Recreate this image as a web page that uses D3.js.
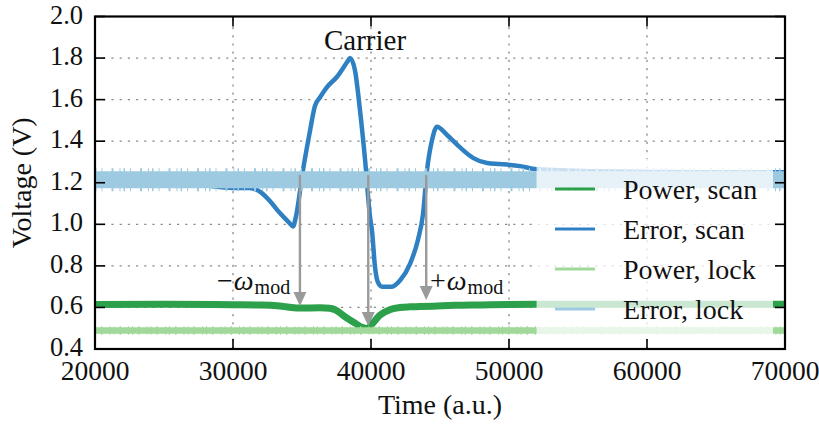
<!DOCTYPE html>
<html>
<head>
<meta charset="utf-8">
<script src="https://cdn.jsdelivr.net/npm/d3@7"></script>
<style>
  html, body { margin: 0; padding: 0; background: #fff; }
  svg { display: block; }
  text { font-family: "Liberation Serif", "DejaVu Serif", serif; fill: #111; }
</style>
</head>
<body>
<svg id="chart" width="819" height="427"></svg>
<script>
// ---------------- data ----------------
const xTicks = [20000, 30000, 40000, 50000, 60000, 70000];
const yTicks = [0.4, 0.6, 0.8, 1.0, 1.2, 1.4, 1.6, 1.8, 2.0];
const xLabel = "Time (a.u.)";
const yLabel = "Voltage (V)";
const seriesNames = ["Power, scan", "Error, scan", "Power, lock", "Error, lock"];
const seriesColors = ["#2ca04a", "#2f80c2", "#a1d99b", "#9ecae1"];

const powerScanT = [20000, 25000, 30000, 32000, 33400, 34100, 34850, 36300, 37000, 37400, 38100, 38800, 39350, 39750, 40070, 40650, 41400, 42100, 42800, 43500, 44500, 46000, 48000, 50000, 52000, 60000, 70000];
const powerScanV = [0.614, 0.615, 0.613, 0.612, 0.607, 0.601, 0.597, 0.598, 0.596, 0.589, 0.556, 0.526, 0.504, 0.498, 0.52, 0.563, 0.590, 0.600, 0.603, 0.604, 0.606, 0.610, 0.612, 0.614, 0.615, 0.615, 0.615];

const errorScanT = [20000, 24000, 27600, 30000, 31200, 32000, 32700, 33400, 34100, 34350, 34570, 35070, 35580, 35940, 36300, 36810, 37540, 38260, 38480, 38840, 39200, 39570, 39930, 40070, 40290, 40510, 40800, 41520, 42100, 42830, 43400, 43770, 44060, 44420, 44780, 45510, 46450, 47390, 48410, 49350, 50800, 52000, 56600, 63800, 70000];
const errorScanV = [1.20, 1.20, 1.19, 1.175, 1.175, 1.155, 1.11, 1.054, 1.006, 0.99, 1.04, 1.26, 1.45, 1.57, 1.61, 1.66, 1.71, 1.78, 1.80, 1.74, 1.55, 1.31, 1.035, 0.97, 0.795, 0.72, 0.70, 0.70, 0.73, 0.81, 0.925, 1.05, 1.26, 1.405, 1.47, 1.43, 1.37, 1.32, 1.295, 1.29, 1.28, 1.265, 1.255, 1.25, 1.25];

const powerLockT = [20000, 30000, 40000, 50000, 60000, 70000];
const powerLockV = [0.489, 0.489, 0.489, 0.489, 0.489, 0.489];

const errorLockT = [20000, 30000, 40000, 50000, 60000, 70000];
const errorLockV = [1.215, 1.215, 1.215, 1.215, 1.215, 1.215];

// annotations: arrow x position, start voltage, tip voltage
const arrowX    = [34850, 39800, 44000];
const arrowFrom = [1.237, 1.237, 1.237];
const arrowTo   = [0.607, 0.511, 0.636];
const carrierLabel = "Carrier";

// ---------------- layout ----------------
const svg = d3.select("#chart");
const x = d3.scaleLinear().domain([20000, 70000]).range([95, 785]);
const y = d3.scaleLinear().domain([0.4, 2.0]).range([349, 16.5]);
const [x0, x1] = x.range();
const [y0, y1] = y.range();

// grid (dotted)
const grid = svg.append("g");
grid.selectAll("line.gx").data(xTicks.slice(1, -1)).enter().append("line")
  .attr("x1", d => x(d)).attr("x2", d => x(d)).attr("y1", y0).attr("y2", y1)
  .attr("stroke", "#8a8a8a").attr("stroke-width", 1.3).attr("stroke-dasharray", "2.2,6");
grid.selectAll("line.gy").data(yTicks.slice(1, -1)).enter().append("line")
  .attr("x1", x0).attr("x2", x1).attr("y1", d => y(d)).attr("y2", d => y(d))
  .attr("stroke", "#8a8a8a").attr("stroke-width", 1.3).attr("stroke-dasharray", "2.2,6");

// clip to plot area
svg.append("clipPath").attr("id", "clip").append("rect")
  .attr("x", x0).attr("y", y1).attr("width", x1 - x0).attr("height", y0 - y1);

const plot = svg.append("g").attr("clip-path", "url(#clip)");
const line = d3.line().x(d => x(d[0])).y(d => y(d[1])).curve(d3.curveMonotoneX);
const zip = (a, b) => a.map((v, i) => [v, b[i]]);

// Power, scan
plot.append("path").datum(zip(powerScanT, powerScanV)).attr("d", line)
  .attr("fill", "none").attr("stroke", seriesColors[0]).attr("stroke-width", 7).attr("stroke-linejoin", "round");
// Error, scan
plot.append("path").datum(zip(errorScanT, errorScanV)).attr("d", line)
  .attr("fill", "none").attr("stroke", seriesColors[1]).attr("stroke-width", 4.5).attr("stroke-linejoin", "round");
// Power, lock
plot.append("path").datum(zip(powerLockT, powerLockV)).attr("d", line)
  .attr("fill", "none").attr("stroke", seriesColors[2]).attr("stroke-width", 6.5);
plot.append("path").datum(zip(powerLockT, powerLockV)).attr("d", line)
  .attr("fill", "none").attr("stroke", seriesColors[2]).attr("stroke-width", 8.5).attr("stroke-dasharray", "1,5,1.5,7,1,3");
// Error, lock (noisy band)
plot.append("path").datum(zip(errorLockT, errorLockV)).attr("d", line)
  .attr("fill", "none").attr("stroke", seriesColors[3]).attr("stroke-width", 17);
plot.append("path").datum(zip(errorLockT, errorLockV)).attr("d", line)
  .attr("fill", "none").attr("stroke", seriesColors[3]).attr("stroke-width", 23).attr("stroke-dasharray", "1.5,5,1,9,2,6,1,3");

// arrows
const arrowColor = "#9a9a9a";
arrowX.forEach((ax, i) => {
  const px = x(ax), pTop = y(arrowFrom[i]), pTip = y(arrowTo[i]);
  const headL = 14, headW = 6.5;
  svg.append("line").attr("x1", px).attr("x2", px).attr("y1", pTop).attr("y2", pTip - headL + 1)
    .attr("stroke", arrowColor).attr("stroke-width", 2.4);
  svg.append("path")
    .attr("d", `M${px - headW},${pTip - headL} L${px + headW},${pTip - headL} L${px},${pTip} Z`)
    .attr("fill", arrowColor);
});

// legend
const leg = svg.append("g");
leg.append("rect").attr("x", x(52000)).attr("y", 159).attr("width", 773 - x(52000)).attr("height", 180)
  .attr("rx", 3).attr("fill", "#fff").attr("fill-opacity", 0.75);
seriesNames.forEach((name, i) => {
  const cy = 189 + i * 40;
  leg.append("line").attr("x1", 555).attr("x2", 595).attr("y1", cy).attr("y2", cy)
    .attr("stroke", seriesColors[i]).attr("stroke-width", 3);
  leg.append("text").attr("x", 623).attr("y", cy + 10).attr("font-size", 28).text(name);
});

// frame
svg.append("rect").attr("x", x0).attr("y", y1).attr("width", x1 - x0).attr("height", y0 - y1)
  .attr("fill", "none").attr("stroke", "#000").attr("stroke-width", 2.2);

// inward ticks on all sides
const tl = 10;
const ticks = svg.append("g").attr("stroke", "#000").attr("stroke-width", 1.6);
xTicks.forEach(t => {
  ticks.append("line").attr("x1", x(t)).attr("x2", x(t)).attr("y1", y0).attr("y2", y0 - tl);
  ticks.append("line").attr("x1", x(t)).attr("x2", x(t)).attr("y1", y1).attr("y2", y1 + tl);
});
yTicks.forEach(t => {
  ticks.append("line").attr("x1", x0).attr("x2", x0 + tl).attr("y1", y(t)).attr("y2", y(t));
  ticks.append("line").attr("x1", x1).attr("x2", x1 - tl).attr("y1", y(t)).attr("y2", y(t));
});

// tick labels
svg.append("g").selectAll("text").data(xTicks).enter().append("text")
  .attr("x", d => x(d)).attr("y", 380).attr("text-anchor", "middle").attr("font-size", 27.5)
  .text(d => d3.format("d")(d));
svg.append("g").selectAll("text").data(yTicks).enter().append("text")
  .attr("x", 83).attr("y", d => y(d) + 7).attr("text-anchor", "end").attr("font-size", 26.5)
  .text(d => d3.format(".1f")(d));

// axis labels
svg.append("text").attr("x", (x0 + x1) / 2).attr("y", 414).attr("text-anchor", "middle")
  .attr("font-size", 28).text(xLabel);
svg.append("text").attr("transform", `translate(31,${(y0 + y1) / 2}) rotate(-90)`)
  .attr("text-anchor", "middle").attr("font-size", 28).text(yLabel);

// annotations
svg.append("text").attr("x", 365).attr("y", 50).attr("text-anchor", "middle").attr("font-size", 29).text(carrierLabel);

function omegaLabel(xp, sign) {
  const t = svg.append("text").attr("x", xp).attr("y", 290).attr("font-size", 28);
  t.append("tspan").text(sign);
  t.append("tspan").attr("font-style", "italic").attr("dx", 1).text("ω");
  t.append("tspan").attr("font-size", 20).attr("dy", 4).attr("dx", 1).text("mod");
}
omegaLabel(217, "−");
omegaLabel(430, "+");
</script>
</body>
</html>
